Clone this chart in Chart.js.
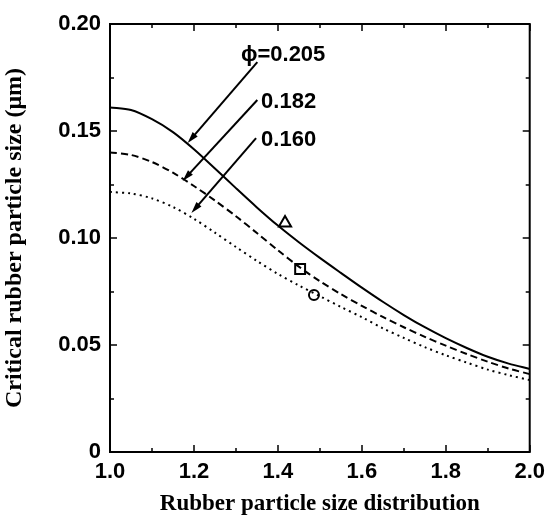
<!DOCTYPE html>
<html>
<head>
<meta charset="utf-8">
<script src="https://cdn.jsdelivr.net/npm/chart.js@4/dist/chart.umd.min.js"></script>
<style>
  html, body { margin: 0; padding: 0; background: #fff; }
  #wrap { width: 552px; height: 518px; }
</style>
</head>
<body>
<div id="wrap"><canvas id="sizeChart" width="552" height="518"></canvas></div>
<script>
const xValues = [1.0, 1.05, 1.1, 1.15, 1.2, 1.25, 1.3, 1.35, 1.4, 1.45, 1.5, 1.55, 1.6, 1.65, 1.7, 1.75, 1.8, 1.85, 1.9, 1.95, 2.0];
const phi205 = [0.161, 0.1598, 0.1555, 0.1495, 0.1415, 0.1325, 0.1233, 0.1143, 0.1058, 0.098, 0.0907, 0.0837, 0.0768, 0.0702, 0.064, 0.0583, 0.0532, 0.0486, 0.0445, 0.0413, 0.0388];
const phi182 = [0.140, 0.1388, 0.1355, 0.1305, 0.1243, 0.1175, 0.1102, 0.1023, 0.0943, 0.0866, 0.0798, 0.0738, 0.0683, 0.0631, 0.0583, 0.0538, 0.0497, 0.0458, 0.0422, 0.039, 0.0364];
const phi160 = [0.1215, 0.1208, 0.1185, 0.1145, 0.109, 0.1025, 0.0958, 0.0893, 0.0832, 0.0778, 0.0728, 0.0678, 0.063, 0.0578, 0.0533, 0.049, 0.0452, 0.0418, 0.0385, 0.0359, 0.0336];
// experimental points
const pointTri = {x: 1.417, y: 0.107};
const pointSq = {x: 1.453, y: 0.0855};
const pointCirc = {x: 1.486, y: 0.0734};
const curveLabels = ['\u03D5=0.205', '0.182', '0.160'];
// arrows in data units: [x0, y0, x1, y1]
const arrows = [
    [1.351, 0.1822, 1.185, 0.1444],
    [1.351, 0.1645, 1.173, 0.1266],
    [1.348, 0.1467, 1.194, 0.1117]
];
const labelPos = [[1.312, 0.1855], [1.36, 0.1635], [1.36, 0.146]];

const toPts = ys => ys.map((y, i) => ({x: xValues[i], y: y}));

// frame + inward ticks on all four sides, arrows and labels
const decorations = {
    id: 'decorations',
    afterDatasetsDraw(chart) {
        const ctx = chart.ctx;
        const xs = chart.scales.x, ys = chart.scales.y;
        const a = chart.chartArea;
        ctx.save();
        ctx.strokeStyle = '#000';
        ctx.lineWidth = 2;
        ctx.strokeRect(a.left, a.top, a.right - a.left, a.bottom - a.top);
        ctx.lineWidth = 1.5;
        for (let i = 0; i <= 10; i++) {
            const v = 1 + i * 0.1;
            const px = Math.round(xs.getPixelForValue(v));
            const len = i % 2 === 0 ? 7 : 4;
            ctx.beginPath();
            ctx.moveTo(px, a.bottom); ctx.lineTo(px, a.bottom - len);
            ctx.moveTo(px, a.top); ctx.lineTo(px, a.top + len);
            ctx.stroke();
        }
        for (let i = 0; i <= 8; i++) {
            const v = i * 0.025;
            const py = Math.round(ys.getPixelForValue(v));
            const len = i % 2 === 0 ? 7 : 4;
            ctx.beginPath();
            ctx.moveTo(a.left, py); ctx.lineTo(a.left + len, py);
            ctx.moveTo(a.right, py); ctx.lineTo(a.right - len, py);
            ctx.stroke();
        }
        // arrows
        ctx.lineWidth = 2;
        ctx.fillStyle = '#000';
        arrows.forEach(ar => {
            const x0 = xs.getPixelForValue(ar[0]), y0 = ys.getPixelForValue(ar[1]);
            const x1 = xs.getPixelForValue(ar[2]), y1 = ys.getPixelForValue(ar[3]);
            const ang = Math.atan2(y1 - y0, x1 - x0);
            ctx.beginPath();
            ctx.moveTo(x0, y0); ctx.lineTo(x1 - 8 * Math.cos(ang), y1 - 8 * Math.sin(ang));
            ctx.stroke();
            ctx.beginPath();
            ctx.moveTo(x1, y1);
            ctx.lineTo(x1 - 12 * Math.cos(ang - 0.28), y1 - 12 * Math.sin(ang - 0.28));
            ctx.lineTo(x1 - 12 * Math.cos(ang + 0.28), y1 - 12 * Math.sin(ang + 0.28));
            ctx.closePath();
            ctx.fill();
        });
        ctx.font = 'bold 22px "Liberation Sans", Arial, sans-serif';
        ctx.textBaseline = 'middle';
        ctx.textAlign = 'left';
        curveLabels.forEach((t, i) => {
            ctx.fillText(t, xs.getPixelForValue(labelPos[i][0]), ys.getPixelForValue(labelPos[i][1]));
        });
        ctx.restore();
    }
};

const lineStyle = {
    pointRadius: 0,
    borderColor: '#000',
    fill: false,
    tension: 0.3
};

new Chart(document.getElementById('sizeChart'), {
    type: 'scatter',
    data: {
        datasets: [
            Object.assign({label: '0.205', data: toPts(phi205), showLine: true, borderWidth: 2}, lineStyle),
            Object.assign({label: '0.182', data: toPts(phi182), showLine: true, borderWidth: 2, borderDash: [7, 4]}, lineStyle),
            Object.assign({label: '0.160', data: toPts(phi160), showLine: true, borderWidth: 2, borderDash: [2, 4]}, lineStyle),
            {label: 'tri', data: [pointTri], pointStyle: 'triangle', pointRadius: 7, borderWidth: 2, borderColor: '#000', backgroundColor: '#fff'},
            {label: 'sq', data: [pointSq], pointStyle: 'rect', pointRadius: 7, borderWidth: 2, borderColor: '#000', backgroundColor: '#fff'},
            {label: 'circ', data: [pointCirc], pointStyle: 'circle', pointRadius: 5, borderWidth: 2, borderColor: '#000', backgroundColor: '#fff'}
        ]
    },
    options: {
        responsive: false,
        animation: false,
        layout: {padding: {top: 24, right: 19, left: 0, bottom: 0}},
        plugins: {legend: {display: false}, tooltip: {enabled: false}},
        scales: {
            x: {
                type: 'linear', min: 1.0, max: 2.0,
                grid: {display: false, drawTicks: false},
                border: {display: false},
                ticks: {
                    stepSize: 0.2, color: '#000', padding: 7,
                    font: {family: '"Liberation Sans", Arial, sans-serif', size: 22, weight: 'bold'},
                    maxRotation: 0,
                    callback: v => v.toFixed(1)
                },
                title: {
                    display: true, text: 'Rubber particle size distribution', color: '#000',
                    font: {family: '"Liberation Serif", "Times New Roman", serif', size: 23, weight: 'bold'},
                    padding: {top: 6, bottom: 0}
                },
                afterFit: s => { s.height = 66; }
            },
            y: {
                type: 'linear', min: 0, max: 0.2,
                grid: {display: false, drawTicks: false},
                border: {display: false},
                ticks: {
                    stepSize: 0.05, color: '#000', padding: 9,
                    font: {family: '"Liberation Sans", Arial, sans-serif', size: 22, weight: 'bold'},
                    callback: v => v === 0 ? '0' : v.toFixed(2)
                },
                title: {
                    display: true, text: 'Critical rubber particle size (\u03BCm)', color: '#000',
                    font: {family: '"Liberation Serif", "Times New Roman", serif', size: 24, weight: 'bold'},
                    padding: {top: 0, bottom: 4}
                },
                afterFit: s => { s.width = 110; }
            }
        }
    },
    plugins: [decorations]
});
</script>
</body>
</html>
